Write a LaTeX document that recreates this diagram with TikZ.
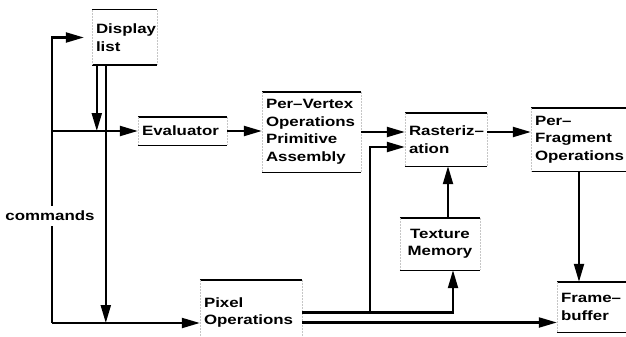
\documentclass[tikz,border=0pt]{standalone}
\usepackage{fontspec}
\newfontfamily\blockfont[FakeStretch=1.25]{Liberation Sans}
\usetikzlibrary{positioning, arrows.meta, calc}
\hyphenpenalty=10000
\exhyphenpenalty=10000

\begin{document}
\begin{tikzpicture}[x=1pt, y=-1pt,
    txt/.style={font=\blockfont\bfseries\fontsize{13.5}{17.5}\selectfont},
    unit/.style 2 args={txt, inner xsep=4pt, inner ysep=0pt, text width=#1,
                        minimum height=#2, align=left},
    rim/.style={line width=1.4pt},
    side/.style={gray!45, densely dotted, line width=0.5pt},
    wire/.style={line width=2.1pt},
    arr/.style={wire, -{Triangle[length=18pt, width=10pt]}},
]

\useasboundingbox (0,0) rectangle (626,337);

% blocks
\node[unit={57pt}{55pt}] (disp) at (124.5,37.5) {Display\\list};
\node[unit={81pt}{28pt}] (eval) at (182.5,131) {Evaluator};
\node[unit={91pt}{80pt}] (vert) at (311.5,132) {Per–Vertex\\Operations\\Primitive\\Assembly};
\node[unit={74pt}{53pt}] (rast) at (446,139.5) {Rasteriz–\\ation};
\node[unit={88pt}{63pt}] (frag) at (579,139.5) {Per–\\Fragment\\Operations};
\node[unit={72pt}{52pt}, align=center] (tex) at (440,244) {Texture\\Memory};
\node[unit={61pt}{50pt}] (fb) at (591.5,307) {Frame–\\buffer};
\node[unit={94pt}{65pt}] (pix) at (251,312.5) {Pixel\\Operations};

% box edges: solid top and bottom, faint sides
\foreach \n in {disp,eval,vert,rast,frag,tex,fb,pix} {
    \draw[rim] (\n.north west) -- (\n.north east);
    \draw[rim] (\n.south west) -- (\n.south east);
    \draw[side] (\n.north west) -- (\n.south west);
    \draw[side] (\n.north east) -- (\n.south east);
}

% commands bus
\coordinate (cmdbot) at (52,323);
\draw[arr, shorten >=8pt] (cmdbot) |- (disp.west);
\draw[arr] (cmdbot) -- (cmdbot -| pix.west);
\draw[arr] (cmdbot |- eval.west) -- (eval.west);
\node[txt, fill=white, inner xsep=1pt, inner ysep=5pt] (cmd) at (50,216) {commands};

% display list outputs
\coordinate (dl) at ($(disp.south west)+(5,0)$);
\coordinate (dr) at ($(disp.south west)+(14,0)$);
\draw[arr] (dl) -- (dl |- eval.west);
\draw[arr] (dr) -- (dr |- cmdbot);

% geometry pipeline
\draw[arr] (eval.east) -- (eval.east -| vert.west);
\draw[arr] (vert.east) -- (vert.east -| rast.west);
\draw[arr] (vert.east -| rast.east) -- (vert.east -| frag.west);
\draw[arr] (frag.south) -- (frag.south |- fb.north);

% texture
\coordinate (tin) at ($(tex.south)+(13,0)$);
\coordinate (tout) at ($(tex.north)+(8,0)$);
\draw[arr] (tout) -- (tout |- rast.south);

% pixel paths
\coordinate (tap) at (370,312.5);
\coordinate (plo) at ($(pix.east)+(0,10)$);
\draw[arr] (pix.east) -- (tap) |- ($(rast.west)+(0,7.5)$);
\draw[arr] (tap) -| (tin);
\draw[arr] (plo) -- (plo -| fb.west);

\end{tikzpicture}
\end{document}
